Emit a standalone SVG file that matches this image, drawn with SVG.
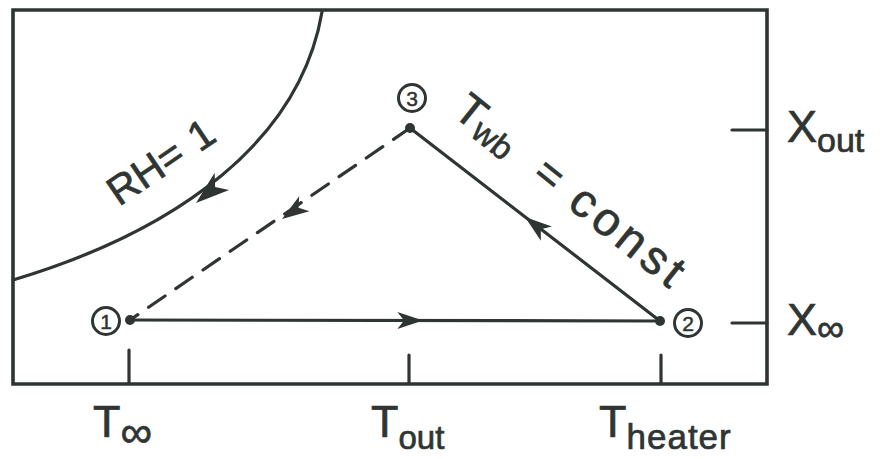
<svg xmlns="http://www.w3.org/2000/svg" width="882" height="459" viewBox="0 0 882 459">
<style>
.ln{stroke:#2f3532;fill:none;stroke-width:3.2;stroke-linecap:round}
.fr{stroke:#2f3532;fill:none;stroke-width:3.6}
.ah{fill:#2f3532}
.t{font-family:"Liberation Sans",Arial,sans-serif;fill:#2f3532;stroke:#2f3532;stroke-width:0.7}
.num{font-family:"Liberation Sans",Arial,sans-serif;fill:#2f3532;stroke:#2f3532;stroke-width:0.5;font-size:21px;text-anchor:middle}
.cr{fill:none;stroke:#2f3532;stroke-width:3}
</style>
<defs>
<path id="arr" d="M0,0 L-27,-9 L-20,0 L-27,9 Z"/>
</defs>
<rect width="882" height="459" fill="#ffffff"/>
<g id="frame">
<path class="fr" d="M13,10 H767 V384 H13 Z"/>
<path class="ln" d="M129,350 V383 M409,355 V383 M661,355 V383 M732,130 H767 M732,323 H767"/>
</g>
<g id="connectors">
<path id="rh-curve" class="ln" d="M322,12 C300,140 180,230 13,280"/>
<use href="#arr" class="ah" transform="translate(196,203) rotate(140) scale(1.25)"/>
<path id="c12" class="ln" d="M130,320 L660,321"/>
<use href="#arr" class="ah" transform="translate(423,320.5) scale(0.95)"/>
<path id="c23" class="ln" d="M660,321 L410,128"/>
<use href="#arr" class="ah" transform="translate(525,217) rotate(217.7)"/>
<path id="c31" class="ln" d="M410,128 L130,320" stroke-dasharray="20 13"/>
<use href="#arr" class="ah" transform="translate(282,219) rotate(145.6)"/>
</g>
<g id="node1">
<circle cx="130" cy="320" r="5" class="ah"/>
<circle cx="106" cy="321" r="13.5" class="cr"/>
<text class="num" x="106" y="328.5">1</text>
</g>
<g id="node2">
<circle cx="660" cy="321" r="5" class="ah"/>
<circle cx="688" cy="323" r="13.5" class="cr"/>
<text class="num" x="688" y="330.5">2</text>
</g>
<g id="node3">
<circle cx="410" cy="128" r="5" class="ah"/>
<circle cx="412" cy="98" r="13.5" class="cr"/>
<text class="num" x="412" y="105.5">3</text>
</g>
<g id="labels">
<text class="t" font-size="41" transform="translate(119,207) rotate(-34)">RH=<tspan dx="14">1</tspan></text>
<text class="t" font-size="44" transform="translate(451.5,114.6) rotate(38.7)">T<tspan font-size="33" dy="5">wb</tspan><tspan dy="-5" dx="32">=</tspan><tspan dx="20" font-size="47" letter-spacing="5">const</tspan></text>
<text class="t" font-size="45" x="93" y="437">T<tspan font-size="44" dy="10">∞</tspan></text>
<text class="t" font-size="45" x="371" y="437">T<tspan font-size="33" dy="12">out</tspan></text>
<text class="t" font-size="45" x="599" y="437">T<tspan font-size="35" dy="12" letter-spacing="1">heater</tspan></text>
<text class="t" font-size="45" x="787" y="142">X<tspan font-size="34" dy="10">out</tspan></text>
<text class="t" font-size="45" x="787" y="335">X<tspan font-size="38" dy="6">∞</tspan></text>
</g>
</svg>
